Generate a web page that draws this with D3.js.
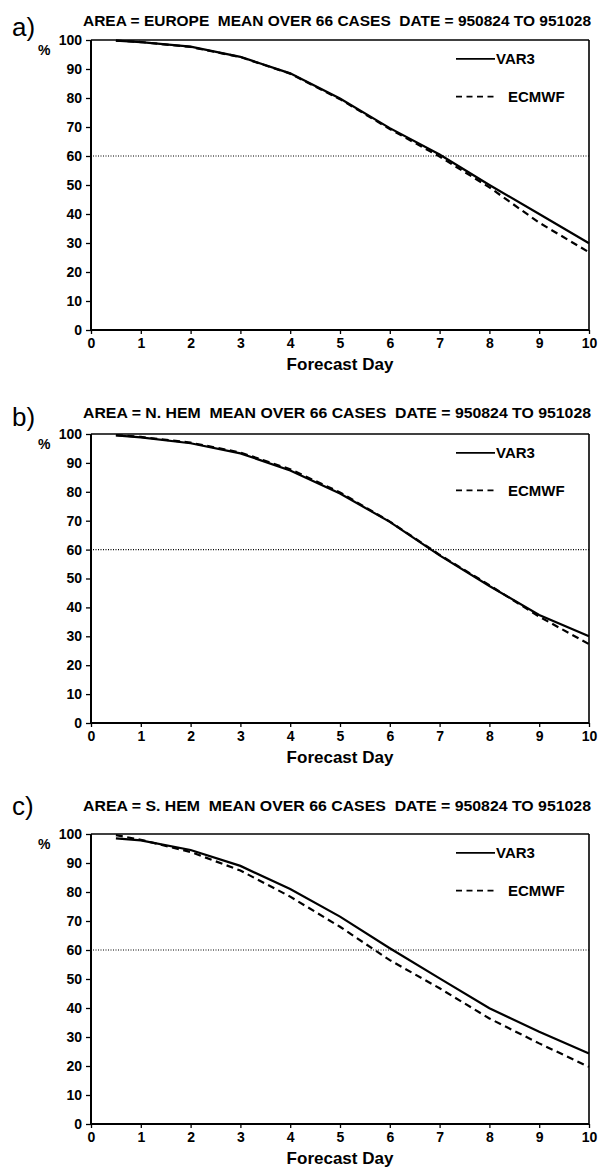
<!DOCTYPE html>
<html>
<head>
<meta charset="utf-8">
<script src="https://cdn.jsdelivr.net/npm/d3@7"></script>
<style>
  html, body { margin: 0; padding: 0; background: #fff; }
  svg { display: block; }
  text { font-family: "Liberation Sans", Arial, Helvetica, sans-serif; fill: #000; }
  .title { white-space: pre; }
</style>
</head>
<body>
<svg id="chart" width="600" height="1168"></svg>
<script>
// ---- data ----
const days = [0.5, 1, 2, 3, 4, 5, 6, 7, 8, 9, 10];
const xTicks = [0, 1, 2, 3, 4, 5, 6, 7, 8, 9, 10];
const yTicks = [0, 10, 20, 30, 40, 50, 60, 70, 80, 90, 100];
const seriesNames = ["VAR3", "ECMWF"];
const panelLabels = ["a)", "b)", "c)"];
const areas = ["EUROPE", "N. HEM", "S. HEM"];
const thresholdValue = 60;

const europeVAR3  = [99.8, 99.3, 97.7, 94.2, 88.5, 79.8, 69.6, 60.5, 50.0, 40.0, 29.9];
const europeECMWF = [99.8, 99.3, 97.6, 94.1, 88.4, 79.6, 69.3, 59.8, 49.2, 37.0, 26.8];
const nhemVAR3    = [99.5, 98.8, 96.8, 93.3, 87.4, 79.4, 69.6, 58.0, 47.4, 37.4, 30.0];
const nhemECMWF   = [99.6, 99.0, 97.0, 93.6, 87.8, 79.8, 69.7, 58.2, 47.7, 36.8, 27.3];
const shemVAR3    = [98.5, 97.8, 94.5, 89.0, 81.0, 71.5, 60.6, 50.2, 39.9, 31.8, 24.3];
const shemECMWF   = [99.6, 98.0, 93.8, 87.4, 78.4, 68.0, 56.5, 46.8, 36.4, 27.8, 19.7];

const panelData = [
  [europeVAR3, europeECMWF],
  [nhemVAR3, nhemECMWF],
  [shemVAR3, shemECMWF]
];

// ---- layout ----
const svg = d3.select("#chart");
const left = 91, right = 589;
const tops = [40, 434, 834];
const bottoms = [330, 723, 1124];
const titleOffsets = [14, 16, 23];
const labelOffsets = [4, 8, 19];
const FONT = '"Liberation Sans", Arial, Helvetica, sans-serif';

panelData.forEach((series, i) => {
  const top = tops[i], bottom = bottoms[i];
  const x = d3.scaleLinear().domain([0, 10]).range([left, right]);
  const y = d3.scaleLinear().domain([0, 100]).range([bottom, top]);
  const g = svg.append("g");

  // panel label
  g.append("text")
    .attr("x", 12).attr("y", top - labelOffsets[i])
    .attr("font-size", 26)
    .text(panelLabels[i]);

  // title
  g.append("text")
    .attr("class", "title")
    .attr("xml:space", "preserve")
    .attr("x", 83).attr("y", top - titleOffsets[i])
    .attr("font-size", 14).attr("font-weight", "bold")
    .attr("textLength", 508).attr("lengthAdjust", "spacingAndGlyphs")
    .text(`AREA = ${areas[i]}  MEAN OVER 66 CASES  DATE = 950824 TO 951028`);

  // percent sign
  g.append("text")
    .attr("x", 38).attr("y", top + 15)
    .attr("font-size", 14).attr("font-weight", "bold")
    .text("%");

  // frame top & right
  g.append("line").attr("x1", left).attr("x2", right).attr("y1", top).attr("y2", top)
    .attr("stroke", "#000").attr("stroke-width", 1.3);
  g.append("line").attr("x1", right).attr("x2", right).attr("y1", top).attr("y2", bottom)
    .attr("stroke", "#000").attr("stroke-width", 1.6);

  // y axis
  const yAxis = d3.axisLeft(y).tickValues(yTicks).tickSize(5).tickPadding(4);
  const ya = g.append("g").attr("transform", `translate(${left},0)`).call(yAxis);
  ya.select(".domain").attr("stroke-width", 2).attr("d", `M0,${bottom}V${top}`);
  ya.selectAll(".tick line").attr("stroke-width", 1.3);
  ya.selectAll(".tick text").attr("font-family", FONT).attr("font-size", 14)
    .attr("font-weight", "bold").attr("fill", "#000");

  // x axis
  const xAxis = d3.axisBottom(x).tickValues(xTicks).tickSize(4).tickPadding(4);
  const xa = g.append("g").attr("transform", `translate(0,${bottom})`).call(xAxis);
  xa.select(".domain").attr("stroke-width", 2).attr("d", `M${left},0H${right}`);
  xa.selectAll(".tick line").attr("stroke-width", 1.3);
  xa.selectAll(".tick text").attr("font-family", FONT).attr("font-size", 14)
    .attr("font-weight", "bold").attr("fill", "#000");

  // x axis title
  g.append("text")
    .attr("x", (left + right) / 2).attr("y", bottom + 40)
    .attr("text-anchor", "middle")
    .attr("font-size", 17).attr("font-weight", "bold")
    .text("Forecast Day");

  // 60% threshold dotted line
  g.append("line")
    .attr("x1", x(0) + 2).attr("x2", x(10))
    .attr("y1", y(thresholdValue)).attr("y2", y(thresholdValue))
    .attr("stroke", "#000").attr("stroke-width", 1.2)
    .attr("stroke-dasharray", "1,1.5");

  // series lines
  const line = d3.line().x((d, k) => x(days[k])).y(d => y(d)).curve(d3.curveLinear);
  g.append("path").datum(series[1])
    .attr("fill", "none").attr("stroke", "#000").attr("stroke-width", 2.2)
    .attr("stroke-dasharray", "7,4.5")
    .attr("d", line);
  g.append("path").datum(series[0])
    .attr("fill", "none").attr("stroke", "#000").attr("stroke-width", 2.2)
    .attr("d", line);

  // legend
  const ly1 = y(93.5), ly2 = y(80.5);
  g.append("line").attr("x1", 456).attr("x2", 495).attr("y1", ly1).attr("y2", ly1)
    .attr("stroke", "#000").attr("stroke-width", 1.8);
  g.append("text").attr("x", 496).attr("y", ly1 + 5.5)
    .attr("font-size", 15).attr("font-weight", "bold").text(seriesNames[0]);
  g.append("line").attr("x1", 456).attr("x2", 494).attr("y1", ly2).attr("y2", ly2)
    .attr("stroke", "#000").attr("stroke-width", 1.8)
    .attr("stroke-dasharray", "6,4.5");
  g.append("text").attr("x", 508).attr("y", ly2 + 5.5)
    .attr("font-size", 15).attr("font-weight", "bold").text(seriesNames[1]);
});
</script>
</body>
</html>
